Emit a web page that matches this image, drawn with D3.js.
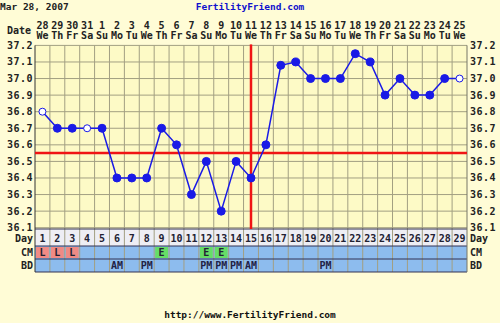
<!DOCTYPE html>
<html>
<head>
<meta charset="utf-8">
<script src="https://cdn.jsdelivr.net/npm/d3@7"></script>
<style>
  body { margin: 0; background: #fffcd6; }
  svg text { font-family: "DejaVu Sans Mono", monospace; font-weight: bold; }
</style>
</head>
<body>
<svg id="chart" width="500" height="323"></svg>
<script>
// chart data
var days = d3.range(1, 30);
var dateNums = ["28","29","30","31","1","2","3","4","5","6","7","8","9","10","11","12","13","14","15","16","17","18","19","20","21","22","23","24","25"];
var weekdays = ["We","Th","Fr","Sa","Su","Mo","Tu","We","Th","Fr","Sa","Su","Mo","Tu","We","Th","Fr","Sa","Su","Mo","Tu","We","Th","Fr","Sa","Su","Mo","Tu","We"];
var temps = [36.8,36.7,36.7,36.7,36.7,36.4,36.4,36.4,36.7,36.6,36.3,36.5,36.2,36.5,36.4,36.6,37.08,37.1,37.0,37.0,37.0,37.15,37.1,36.9,37.0,36.9,36.9,37.0,37.0];
var openDays = [1, 4, 29];
var yTicks = [36.1,36.2,36.3,36.4,36.5,36.6,36.7,36.8,36.9,37.0,37.1,37.2];
var coverline = 36.55;
var ovulationDay = 15;
var cmCodes = {1:"L",2:"L",3:"L",9:"E",12:"E",13:"E"};
var bdCodes = {6:"AM",8:"PM",12:"PM",13:"PM",14:"PM",15:"AM",20:"PM"};

var svg = d3.select("#chart");

var pLeft = 35, pRight = 467, pTop = 45.4, pBottom = 227.7;
var x = d3.scaleLinear().domain([0.5, 29.5]).range([pLeft, pRight]);
var y = d3.scaleLinear().domain([36.1, 37.2]).range([pBottom, pTop]);
var colW = x(2) - x(1);

var rowDay = [229, 246], rowCM = [246, 259], rowBD = [259, 272];

// plot background
svg.append("rect").attr("x", pLeft).attr("y", pTop).attr("width", pRight-pLeft).attr("height", pBottom-pTop)
	.attr("fill", "#fdfac6");

// bottom rows
svg.append("rect").attr("x", pLeft).attr("y", rowDay[0]).attr("width", pRight-pLeft).attr("height", rowDay[1]-rowDay[0])
	.attr("fill", "#eeeef4");
svg.append("rect").attr("x", pLeft).attr("y", rowCM[0]).attr("width", pRight-pLeft).attr("height", rowBD[1]-rowCM[0])
	.attr("fill", "#8dbcee");

svg.selectAll("rect.cm").data(days.filter(function(d){ return cmCodes[d]; }))
	.enter().append("rect").attr("class","cm")
	.attr("x", function(d){ return x(d-0.5)+1; })
	.attr("y", rowCM[0]+1)
	.attr("width", colW-2).attr("height", rowCM[1]-rowCM[0]-2)
	.attr("fill", function(d){ return cmCodes[d] == "L" ? "#f08a84" : "#66dd66"; });

// grid
var grid = svg.append("g").attr("stroke", "#a29f82").attr("stroke-width", 1);
grid.selectAll("line.h").data(yTicks).enter().append("line")
	.attr("x1", pLeft).attr("x2", pRight)
	.attr("y1", function(d){ return y(d); }).attr("y2", function(d){ return y(d); });
grid.selectAll("line.v").data(d3.range(1, 29)).enter().append("line")
	.attr("x1", function(d){ return x(d+0.5); }).attr("x2", function(d){ return x(d+0.5); })
	.attr("y1", pTop).attr("y2", rowBD[1]);

// row borders
svg.append("g").attr("stroke", "#333355").attr("stroke-width", 1)
	.selectAll("line").data([rowDay[0], rowCM[0], rowBD[0], rowBD[1]]).enter().append("line")
	.attr("x1", pLeft).attr("x2", pRight)
	.attr("y1", function(d){ return d; }).attr("y2", function(d){ return d; });
svg.append("line").attr("x1", pLeft).attr("x2", pLeft).attr("y1", pTop).attr("y2", rowBD[1])
	.attr("stroke", "#333333");
svg.append("line").attr("x1", pRight).attr("x2", pRight).attr("y1", pTop).attr("y2", rowBD[1])
	.attr("stroke", "#777766");

// coverline and ovulation line
svg.append("line").attr("x1", pLeft).attr("x2", pRight)
	.attr("y1", y(coverline)).attr("y2", y(coverline))
	.attr("stroke", "#f01414").attr("stroke-width", 2.5);
svg.append("line").attr("x1", x(ovulationDay)).attr("x2", x(ovulationDay))
	.attr("y1", pTop-1).attr("y2", rowDay[0])
	.attr("stroke", "#f01414").attr("stroke-width", 2.5);

// temperature line
var line = d3.line().x(function(d, i){ return x(days[i]); }).y(function(d){ return y(d); });
svg.append("path").datum(temps).attr("d", line)
	.attr("fill", "none").attr("stroke", "#1a1ae6").attr("stroke-width", 1.5);
svg.selectAll("circle").data(temps).enter().append("circle")
	.attr("cx", function(d, i){ return x(days[i]); })
	.attr("cy", function(d){ return y(d); })
	.attr("r", function(d, i){ return openDays.indexOf(days[i]) >= 0 ? 3.5 : 4; })
	.attr("fill", function(d, i){ return openDays.indexOf(days[i]) >= 0 ? "#ffffff" : "#1a1ae6"; })
	.attr("stroke", "#1a1ae6").attr("stroke-width", 1);

// y labels, both sides
var fs = "10px";
svg.selectAll("text.yl").data(yTicks).enter().append("text")
	.attr("x", pLeft-2).attr("y", function(d){ return y(d)+3.5; })
	.attr("text-anchor", "end").attr("font-size", fs).attr("fill", "#222222")
	.attr("letter-spacing", "0.5px")
	.text(function(d){ return d.toFixed(1); });
svg.selectAll("text.yr").data(yTicks).enter().append("text")
	.attr("x", pRight+3).attr("y", function(d){ return y(d)+3.5; })
	.attr("font-size", fs).attr("fill", "#222222")
	.attr("letter-spacing", "0.5px")
	.text(function(d){ return d.toFixed(1); });

// dates at the top
svg.selectAll("text.dn").data(dateNums).enter().append("text")
	.attr("x", function(d, i){ return x(days[i]); }).attr("y", 29)
	.attr("text-anchor", "middle").attr("font-size", fs).attr("fill", "#222222")
	.text(function(d){ return d; });
svg.selectAll("text.wd").data(weekdays).enter().append("text")
	.attr("x", function(d, i){ return x(days[i]); }).attr("y", 39)
	.attr("text-anchor", "middle").attr("font-size", fs).attr("fill", "#222222")
	.text(function(d){ return d; });
svg.append("text").attr("x", 31).attr("y", 34).attr("text-anchor", "end")
	.attr("font-size", fs).attr("fill", "#222222").text("Date");

// day numbers
svg.selectAll("text.day").data(days).enter().append("text")
	.attr("x", function(d){ return x(d); }).attr("y", rowDay[1]-4)
	.attr("text-anchor", "middle").attr("font-size", fs).attr("fill", "#222233")
	.text(function(d){ return d; });

svg.selectAll("text.cmt").data(days.filter(function(d){ return cmCodes[d]; }))
	.enter().append("text")
	.attr("x", function(d){ return x(d); }).attr("y", rowCM[1]-3)
	.attr("text-anchor", "middle").attr("font-size", fs).attr("fill", "#222233")
	.text(function(d){ return cmCodes[d]; });
svg.selectAll("text.bdt").data(days.filter(function(d){ return bdCodes[d]; }))
	.enter().append("text")
	.attr("x", function(d){ return x(d); }).attr("y", rowBD[1]-3)
	.attr("text-anchor", "middle").attr("font-size", fs).attr("fill", "#222244")
	.text(function(d){ return bdCodes[d]; });

// row labels
var rowNames = [["Day", rowDay[1]-4], ["CM", rowCM[1]-3], ["BD", rowBD[1]-3]];
rowNames.forEach(function(r){
	svg.append("text").attr("x", pLeft-2).attr("y", r[1]).attr("text-anchor", "end")
		.attr("font-size", fs).attr("fill", "#222222").text(r[0]);
	svg.append("text").attr("x", pRight+3).attr("y", r[1])
		.attr("font-size", fs).attr("fill", "#222222").text(r[0]);
});

// header and footer
svg.append("text").attr("x", 0).attr("y", 10).attr("font-size", "9.5px").attr("fill", "#222222")
	.text("Mar 28, 2007");
svg.append("text").attr("x", 250).attr("y", 10).attr("text-anchor", "middle")
	.attr("font-size", "9.5px").attr("fill", "#1111cc").text("FertilityFriend.com");
svg.append("text").attr("x", 250).attr("y", 318).attr("text-anchor", "middle")
	.attr("font-size", "9.5px").attr("fill", "#111111").text("http://www.FertilityFriend.com");
</script>
</body>
</html>
